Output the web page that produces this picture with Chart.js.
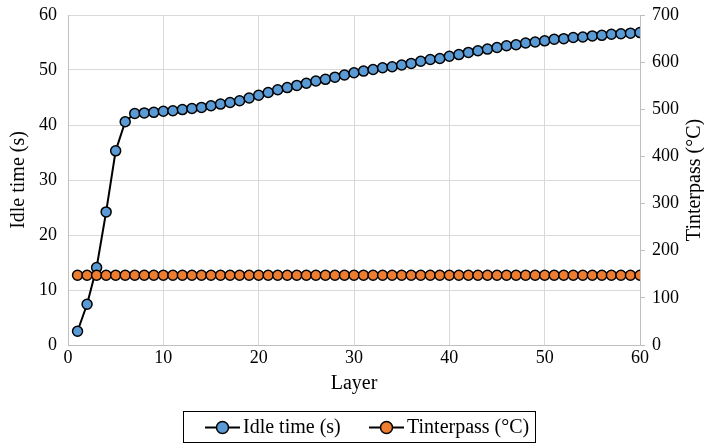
<!DOCTYPE html>
<html>
<head>
<meta charset="utf-8">
<script src="https://cdn.jsdelivr.net/npm/chart.js@4.4.1/dist/chart.umd.min.js"></script>
<style>
  html, body { margin: 0; padding: 0; background: #fff; }
  #wrap { width: 704px; height: 445px; }
</style>
</head>
<body>
<div id="wrap"><canvas id="chart" width="704" height="445"></canvas></div>
<script>
// layer numbers 1..60
const layers = [1,2,3,4,5,6,7,8,9,10,11,12,13,14,15,16,17,18,19,20,
  21,22,23,24,25,26,27,28,29,30,31,32,33,34,35,36,37,38,39,40,
  41,42,43,44,45,46,47,48,49,50,51,52,53,54,55,56,57,58,59,60];

// idle time (s)
const idleTime = [2.5,7.4,14.1,24.2,35.3,40.6,42.1,42.2,42.3,42.5,
  42.6,42.8,43.0,43.2,43.5,43.8,44.1,44.4,44.9,45.4,
  45.9,46.4,46.8,47.2,47.6,48.0,48.3,48.7,49.1,49.5,
  49.8,50.1,50.4,50.6,50.9,51.2,51.6,51.9,52.1,52.5,
  52.8,53.2,53.5,53.8,54.1,54.4,54.6,54.9,55.1,55.3,
  55.6,55.7,55.9,56.0,56.2,56.3,56.5,56.6,56.7,56.8];

// interpass temperature (°C)
const tInterpass = [148,148,148,148,148,148,148,148,148,148,
  148,148,148,148,148,148,148,148,148,148,
  148,148,148,148,148,148,148,148,148,148,
  148,148,148,148,148,148,148,148,148,148,
  148,148,148,148,148,148,148,148,148,148,
  148,148,148,148,148,148,148,148,148,148];

const seriesNames = ['Idle time (s)', 'Tinterpass (\u00B0C)'];
const xTitle = 'Layer';
const yTitle = 'Idle time (s)';
const y1Title = 'Tinterpass (\u00B0C)';

const FONT = '"Liberation Serif", "Times New Roman", serif';
const BLUE = '#5b9bd5';
const ORANGE = '#ed7d31';
const GRID = '#d9d9d9';
const AXIS = '#bfbfbf';

function toPoints(vals) {
  return layers.map((l, i) => ({ x: l, y: vals[i] }));
}

// fixed axis widths so the plot area sits where the original has it
function fixWidth(w) {
  return s => { s.width = w; s.paddingTop = 0; s.paddingBottom = 0; };
}

// right title reads bottom-to-top, plus the boxed legend under the chart
const extrasPlugin = {
  id: 'extras',
  afterDraw(chart) {
    const ctx = chart.ctx;
    const area = chart.chartArea;
    ctx.save();
    ctx.fillStyle = '#000';
    ctx.font = '20px ' + FONT;
    ctx.textAlign = 'center';
    ctx.textBaseline = 'middle';
    ctx.translate(695, (area.top + area.bottom) / 2);
    ctx.rotate(-Math.PI / 2);
    ctx.fillText(y1Title, 0, 0);
    ctx.restore();

    // legend
    ctx.save();
    const boxL = 183, boxT = 411, boxW = 352, boxH = 31;
    ctx.strokeStyle = '#000';
    ctx.lineWidth = 1;
    ctx.strokeRect(boxL + 0.5, boxT + 0.5, boxW, boxH);
    const cy = boxT + boxH / 2 + 1;
    const items = [
      { x: 205, color: BLUE, text: seriesNames[0] },
      { x: 369, color: ORANGE, text: seriesNames[1] }
    ];
    ctx.font = '20px ' + FONT;
    ctx.textBaseline = 'middle';
    ctx.textAlign = 'left';
    items.forEach(it => {
      ctx.strokeStyle = '#000';
      ctx.lineWidth = 2;
      ctx.beginPath();
      ctx.moveTo(it.x, cy);
      ctx.lineTo(it.x + 35, cy);
      ctx.stroke();
      ctx.beginPath();
      ctx.arc(it.x + 17.5, cy, 6, 0, Math.PI * 2);
      ctx.fillStyle = it.color;
      ctx.fill();
      ctx.lineWidth = 1.5;
      ctx.stroke();
      ctx.fillStyle = '#000';
      ctx.fillText(it.text, it.x + 38, cy);
    });
    ctx.restore();
  }
};

new Chart(document.getElementById('chart'), {
  type: 'line',
  data: {
    datasets: [
      {
        label: seriesNames[0],
        data: toPoints(idleTime),
        yAxisID: 'y',
        borderColor: '#000',
        borderWidth: 2,
        pointBackgroundColor: BLUE,
        pointBorderColor: '#000',
        pointBorderWidth: 1.5,
        pointRadius: 5,
        tension: 0,
        order: 1
      },
      {
        label: seriesNames[1],
        data: toPoints(tInterpass),
        yAxisID: 'y1',
        borderColor: '#000',
        borderWidth: 2,
        pointBackgroundColor: ORANGE,
        pointBorderColor: '#000',
        pointBorderWidth: 1.5,
        pointRadius: 5,
        tension: 0,
        order: 0
      }
    ]
  },
  options: {
    responsive: false,
    animation: false,
    layout: { padding: { top: 15, bottom: 45, left: 0, right: 0 } },
    plugins: {
      legend: { display: false },
      tooltip: { enabled: false }
    },
    scales: {
      x: {
        type: 'linear',
        min: 0, max: 60,
        afterFit(s) { s.height = 55; },
        ticks: { stepSize: 10, color: '#000', font: { family: FONT, size: 18 }, padding: 2, maxRotation: 0 },
        grid: { color: GRID, drawTicks: false },
        border: { color: AXIS },
        title: { display: true, text: xTitle, color: '#000', font: { family: FONT, size: 20 }, padding: { top: 4, bottom: 4 } }
      },
      y: {
        position: 'left',
        min: 0, max: 60,
        afterFit: fixWidth(68),
        ticks: { stepSize: 10, color: '#000', font: { family: FONT, size: 18 }, padding: 11 },
        grid: { color: GRID, drawTicks: false },
        border: { color: AXIS },
        title: { display: true, text: yTitle, color: '#000', font: { family: FONT, size: 20 }, padding: { top: 7, bottom: 0 } }
      },
      y1: {
        position: 'right',
        min: 0, max: 700,
        afterFit: fixWidth(64),
        ticks: { stepSize: 100, color: '#000', font: { family: FONT, size: 18 }, padding: 7 },
        grid: { drawOnChartArea: false, drawTicks: true, tickLength: 5, color: AXIS },
        border: { color: AXIS }
      }
    }
  },
  plugins: [extrasPlugin]
});
</script>
</body>
</html>
